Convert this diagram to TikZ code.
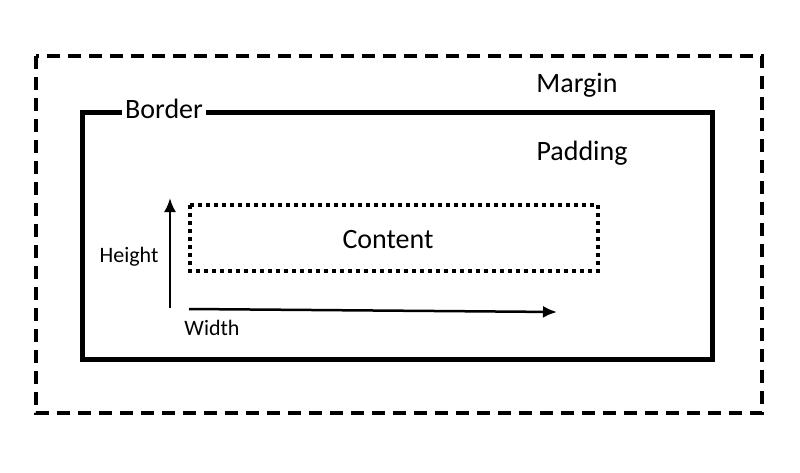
\documentclass[tikz,border=0pt]{standalone}
\usepackage{fontspec}
\setmainfont{Carlito}
\usetikzlibrary{arrows.meta}
\usetikzlibrary{positioning}
\tikzset{marginbox/.style = {draw, line width=4pt, dash pattern=on 13pt off 8pt},
         borderbox/.style = {draw, line width=5pt},
         contentbox/.style = {draw, line width=4pt, dash pattern=on 4pt off 4pt},
         biglbl/.style = {font=\fontsize{28}{32}\selectfont, inner sep=1pt, anchor=base},
         smalllbl/.style = {font=\fontsize{22}{26}\selectfont, inner sep=1pt, anchor=base},
         dimarrow/.style = {line width=2.5pt, -{Latex[length=14pt, width=12pt]}}}

\begin{document}
\begin{tikzpicture}[x=1pt, y=-1pt]
    \useasboundingbox (0, 0) rectangle (800, 473);

    \draw [marginbox] (36, 56) rectangle (762, 413);
    \draw [borderbox] (82, 113) rectangle (712, 359);
    \draw [contentbox] (190, 205) rectangle (598, 271);

    \node [biglbl] (margin) at (577, 93) {Margin};
    \node [biglbl, fill=white, inner xsep=3pt] (border) at (164, 119) {Border};
    \node [biglbl] (padding) at (582, 161) {Padding};
    \node [biglbl] (content) at (388, 248) {Content};

    \coordinate (hstart) at (170, 308);
    \coordinate (hend) at (170, 198);
    \coordinate (wstart) at (189, 309);
    \coordinate (wend) at (557, 312);

    \draw [dimarrow] (hstart) -- (hend);
    \draw [dimarrow] (wstart) -- (wend);

    \node [smalllbl] (height) at (129, 262) {Height};
    \node [smalllbl] (width) at (212, 335) {Width};
  \end{tikzpicture}
\end{document}
